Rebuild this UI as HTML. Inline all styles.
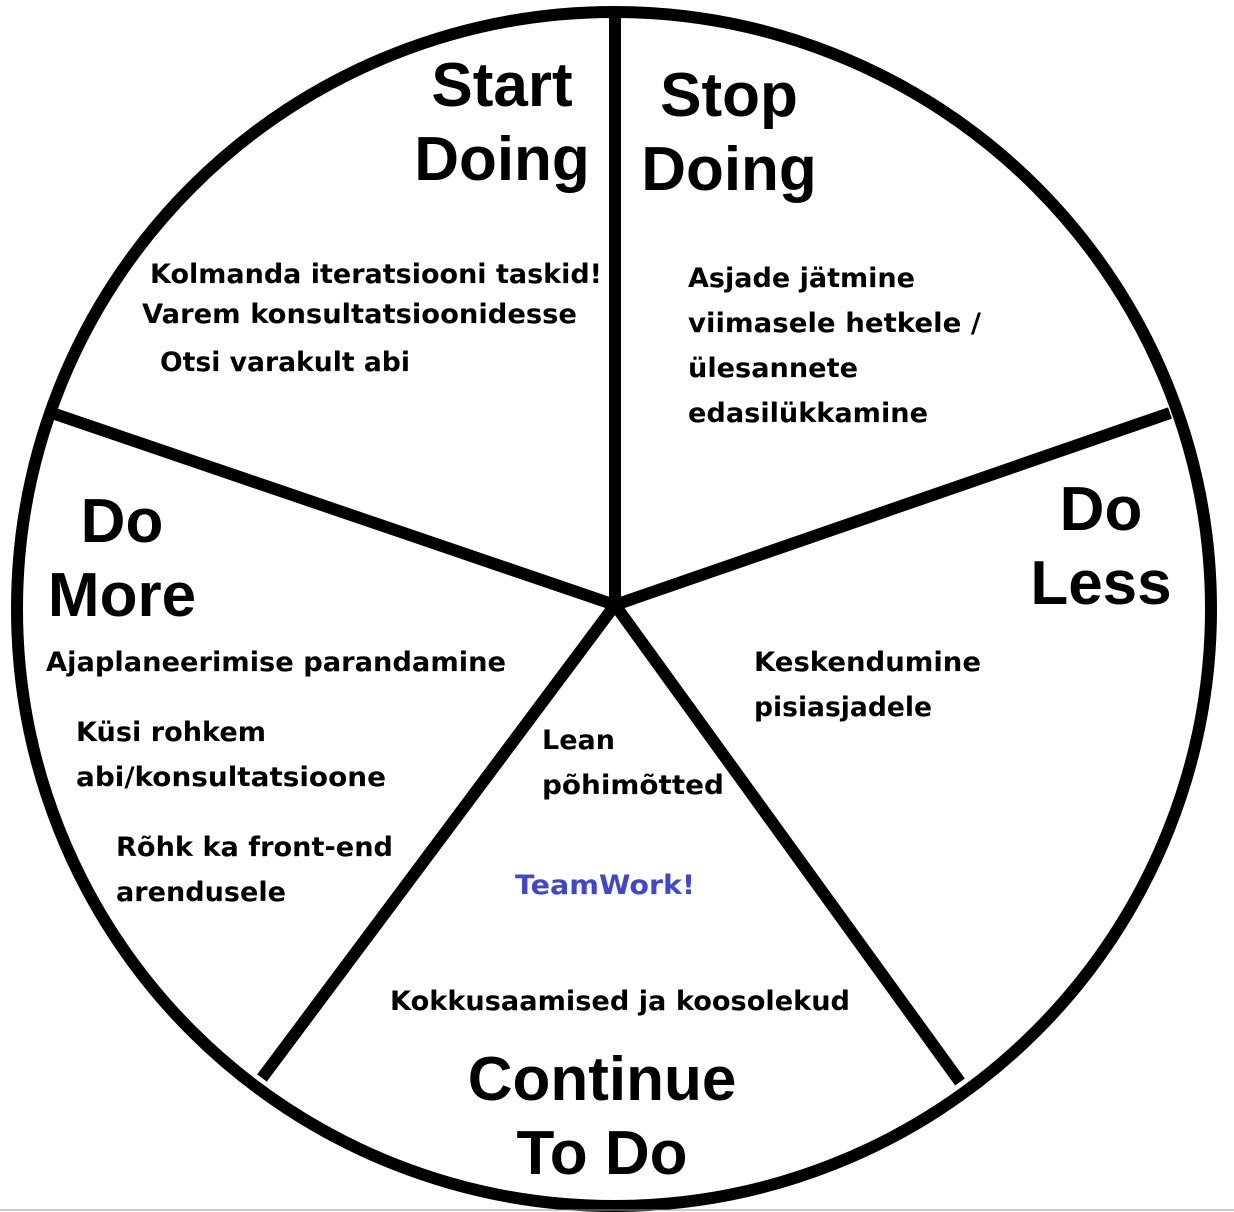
<!DOCTYPE html>
<html><head><meta charset="utf-8"><style>
html,body{margin:0;padding:0;background:#fff;}
svg{display:block}
.h{font-family:"Liberation Sans",Arial,sans-serif;font-weight:bold;font-size:62px;fill:#000}
.s{font-family:"DejaVu Sans",Verdana,sans-serif;font-weight:bold;font-size:27px;fill:#000}
</style></head><body>
<svg width="1234" height="1212" viewBox="0 0 1234 1212" xmlns="http://www.w3.org/2000/svg">
<rect width="1234" height="1212" fill="#fff"/>
<circle cx="614" cy="609" r="597" fill="none" stroke="#000" stroke-width="12"/>
<g stroke="#000" stroke-width="12" stroke-linecap="butt">
<line x1="615" y1="605" x2="615" y2="12"/>
<line x1="615" y1="605" x2="1170" y2="413"/>
<line x1="615" y1="605" x2="960" y2="1082"/>
<line x1="615" y1="605" x2="262" y2="1078"/>
<line x1="615" y1="605" x2="52" y2="413"/>
</g>
<line x1="0" y1="1210" x2="1234" y2="1210" stroke="#999" stroke-width="1"/>
<text class="h" x="502" y="106" text-anchor="middle">Start</text>
<text class="h" x="502" y="180" text-anchor="middle">Doing</text>
<text class="h" x="729" y="116" text-anchor="middle">Stop</text>
<text class="h" x="729" y="190" text-anchor="middle">Doing</text>
<text class="h" x="122" y="542" text-anchor="middle">Do</text>
<text class="h" x="122" y="616" text-anchor="middle">More</text>
<text class="h" x="1101" y="530" text-anchor="middle">Do</text>
<text class="h" x="1101" y="604" text-anchor="middle">Less</text>
<text class="h" x="602" y="1100" text-anchor="middle">Continue</text>
<text class="h" x="602" y="1174" text-anchor="middle">To Do</text>
<text class="s" x="150" y="283" textLength="452" lengthAdjust="spacingAndGlyphs">Kolmanda iteratsiooni taskid!</text>
<text class="s" x="142" y="323" textLength="435" lengthAdjust="spacingAndGlyphs">Varem konsultatsioonidesse</text>
<text class="s" x="160" y="371" textLength="250" lengthAdjust="spacingAndGlyphs">Otsi varakult abi</text>
<text class="s" x="688" y="287" textLength="227" lengthAdjust="spacingAndGlyphs">Asjade jätmine</text>
<text class="s" x="688" y="332" textLength="293" lengthAdjust="spacingAndGlyphs">viimasele hetkele /</text>
<text class="s" x="688" y="377" textLength="170" lengthAdjust="spacingAndGlyphs">ülesannete</text>
<text class="s" x="688" y="422" textLength="240" lengthAdjust="spacingAndGlyphs">edasilükkamine</text>
<text class="s" x="46" y="671" textLength="460" lengthAdjust="spacingAndGlyphs">Ajaplaneerimise parandamine</text>
<text class="s" x="76" y="741" textLength="190" lengthAdjust="spacingAndGlyphs">Küsi rohkem</text>
<text class="s" x="76" y="786" textLength="310" lengthAdjust="spacingAndGlyphs">abi/konsultatsioone</text>
<text class="s" x="116" y="856" textLength="277" lengthAdjust="spacingAndGlyphs">Rõhk ka front-end</text>
<text class="s" x="116" y="901" textLength="170" lengthAdjust="spacingAndGlyphs">arendusele</text>
<text class="s" x="754" y="671" textLength="227" lengthAdjust="spacingAndGlyphs">Keskendumine</text>
<text class="s" x="754" y="716" textLength="178" lengthAdjust="spacingAndGlyphs">pisiasjadele</text>
<text class="s" x="542" y="749">Lean</text>
<text class="s" x="542" y="794" textLength="182" lengthAdjust="spacingAndGlyphs">põhimõtted</text>
<text class="s" x="515" y="894" style="fill:#3f48cc" textLength="180" lengthAdjust="spacingAndGlyphs">TeamWork!</text>
<text class="s" x="390" y="1010" textLength="460" lengthAdjust="spacingAndGlyphs">Kokkusaamised ja koosolekud</text>
</svg>
</body></html>
